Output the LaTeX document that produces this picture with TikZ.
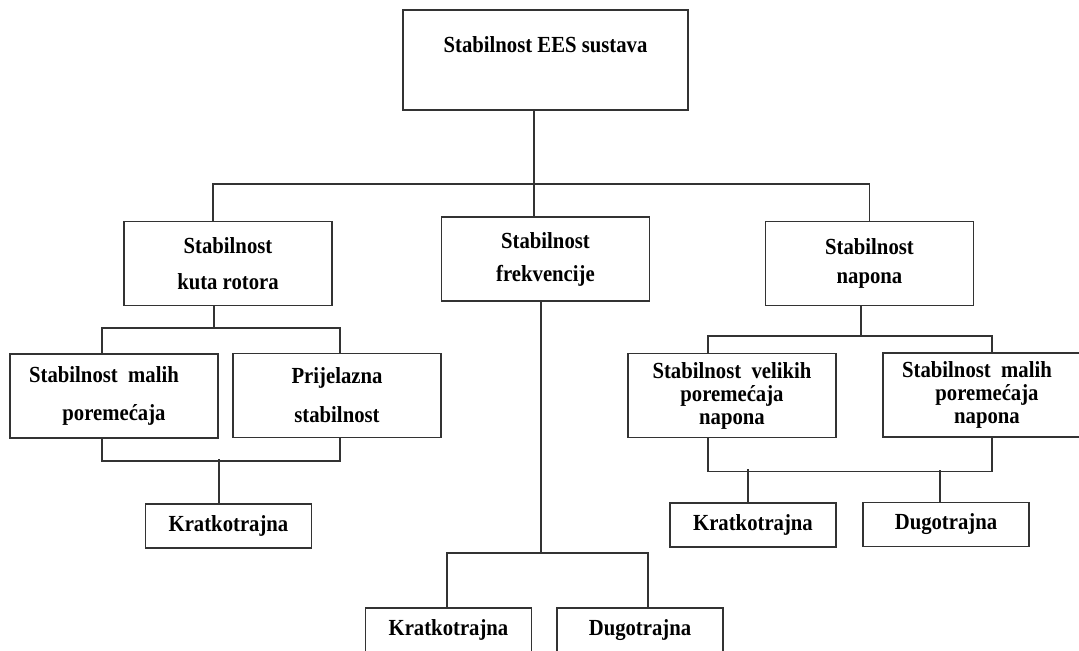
\documentclass[tikz,border=0pt]{standalone}
\usepackage{fontspec}
\setmainfont{Liberation Serif}[FakeStretch=0.9]
\usetikzlibrary{positioning,calc}

\begin{document}
\begin{tikzpicture}[
    x=0.02cm, y=-0.02cm,
    box/.style={rectangle, draw=black!80, line width=0.035cm, align=center,
        font=\fontsize{13.1pt}{13.1pt}\selectfont\bfseries, inner sep=0pt},
    bigbox/.style={box, minimum width=4.16cm, minimum height=1.68cm},
    smallbox/.style={box, minimum width=3.32cm, minimum height=0.88cm},
    link/.style={draw=black!80, line width=0.035cm}
]
\clip (0,0) rectangle (1079,650);
\fill[white] (0,0) rectangle (1079,650);

% Boxes
\node[box, minimum width=5.7cm, minimum height=2cm] (root) at (545.5,60) {\raisebox{0.3cm}[\height][\depth]{Stabilnost EES sustava}};
\node[bigbox] (kuta) at (228,263.5) {Stabilnost\\[0.26cm] kuta rotora};
\node[bigbox] (frek) at (545.5,259) {Stabilnost\\[0.2cm] frekvencije};
\node[bigbox] (napon) at (869.5,263.5) {Stabilnost\\[0.12cm] napona};
\node[bigbox] (mali) at (114,396) {Stabilnost\ \ malih\hspace*{0.4cm}\\[0.3cm] poremećaja};
\node[bigbox] (prijel) at (337,395.5) {Prijelazna\\[0.32cm] stabilnost};
\node[bigbox] (velik) at (732,395.5) {Stabilnost\ \ velikih\\ poremećaja\\ napona};
\node[bigbox] (malin) at (987,395) {Stabilnost\ \ malih\hspace*{0.4cm}\\ poremećaja\\ napona};
\node[smallbox] (krat1) at (228.5,526) {Kratkotrajna};
\node[smallbox] (krat2) at (753,525) {Kratkotrajna};
\node[smallbox] (dugo2) at (946,524.5) {Dugotrajna};
\node[smallbox] (krat3) at (448.5,630) {Kratkotrajna};
\node[smallbox] (dugo3) at (640,630) {Dugotrajna};

% Lines
\draw[link] ($(root.south)+(-11.5,0)$) -- ++(0,73) coordinate (bus1);
\draw[link] ($(kuta.north)+(-15,0)$) |- (bus1) -| (napon.north);
\draw[link] (bus1) -- (bus1 |- frek.north);

\draw[link] ($(kuta.south)+(-14,0)$) -- ++(0,22) coordinate (bus2);
\draw[link] ($(mali.north)+(-12,0)$) |- (bus2) -| ($(prijel.north)+(3,0)$);
\draw[link] ($(mali.south)+(-12,0)$) -- ++(0,22) -| ($(prijel.south)+(3,0)$);
\draw[link] ($(krat1.north)+(-9.5,0)$) -- ++(0,-44);

\draw[link] ($(frek.south)+(-4.5,0)$) -- ++(0,251) coordinate (bus3);
\draw[link] ($(krat3.north)+(-1.5,0)$) |- (bus3) -| ($(dugo3.north)+(8,0)$);

\draw[link] ($(napon.south)+(-8.5,0)$) -- ++(0,30) coordinate (bus4);
\draw[link] ($(velik.north)+(-24,0)$) |- (bus4) -| ($(malin.north)+(5,0)$);
\draw[link] ($(velik.south)+(-24,0)$) -- ++(0,33) -| ($(malin.south)+(5,0)$);
\draw[link] ($(krat2.north)+(-5,0)$) -- ++(0,-33);
\draw[link] ($(dugo2.north)+(-6,0)$) -- ++(0,-32);

\end{tikzpicture}
\end{document}
